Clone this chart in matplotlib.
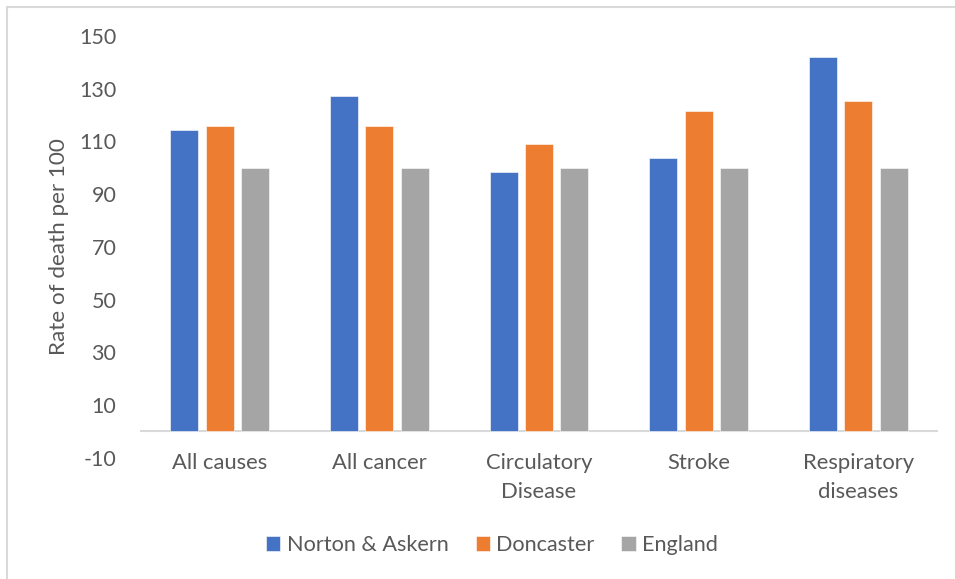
import numpy as np
import matplotlib.pyplot as plt
from matplotlib.patches import Rectangle

categories = ['All causes', 'All cancer', 'Circulatory\nDisease', 'Stroke', 'Respiratory\ndiseases']
norton = [114.3, 127.2, 98.3, 103.8, 142.0]
doncaster = [115.9, 115.9, 109.1, 121.6, 125.2]
england = [100, 100, 100, 100, 100]
series_names = ['Norton & Askern', 'Doncaster', 'England']
colors = ['#4472C4', '#ED7D31', '#A5A5A5']
yticks = [-10, 10, 30, 50, 70, 90, 110, 130, 150]

plt.rcParams['font.family'] = ['Lato', 'DejaVu Sans']
txt = '#595959'

fig = plt.figure(figsize=(9.55, 5.79), dpi=100)
ax = fig.add_axes([140/955, 1 - 457.7/579, (938-140)/955, (457.7-36)/579])

x = np.arange(len(categories))
w = 0.175
off = 0.222
for i, (vals, name, c) in enumerate(zip([norton, doncaster, england], series_names, colors)):
    ax.bar(x + (i-1)*off, vals, w, color=c, label=name, edgecolor='white', linewidth=0.4)

ax.set_xlim(-0.5, len(categories) - 0.5)
ax.set_ylim(-10, 150)
ax.set_yticks(yticks)
ax.set_yticklabels([str(t) for t in yticks], fontsize=15.5, color=txt)
ax.set_xticks(x)
ax.set_xticklabels(categories, fontsize=15.8, color=txt, linespacing=1.55)
ax.tick_params(axis='both', length=0)
ax.tick_params(axis='x', pad=-3.4)
ax.tick_params(axis='y', pad=17)
for s in ax.spines.values():
    s.set_visible(False)
ax.axhline(0, color='#D9D9D9', linewidth=1.5, zorder=0)
ax.set_ylabel('Rate of death per 100', fontsize=16.2, color=txt, labelpad=7)

# chart frame
fig.patches.append(Rectangle((7/955, -0.1), 1.2, 1 - 7/579 + 0.1, transform=fig.transFigure,
                             fill=False, edgecolor='#D9D9D9', linewidth=1.5))

fig.legend(loc='center', bbox_to_anchor=(492/955, 1 - 545/579), ncol=3, frameon=False,
           fontsize=15.6, labelcolor=txt, handlelength=0.65, handleheight=0.65,
           handletextpad=0.3, columnspacing=1.25)

fig.savefig('out.png', dpi=100)
